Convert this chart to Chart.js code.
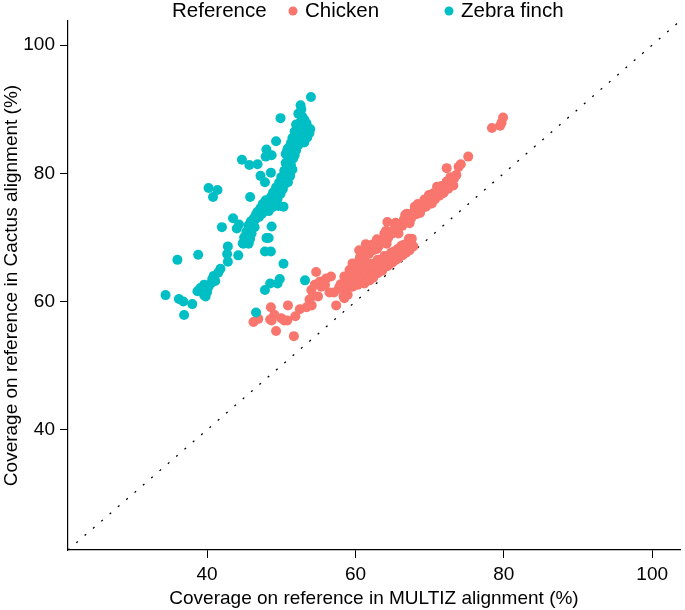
<!DOCTYPE html>
<html>
<head>
<meta charset="utf-8">
<script src="https://cdn.jsdelivr.net/npm/chart.js@4.4.1/dist/chart.umd.min.js"></script>
<style>
  html, body { margin: 0; padding: 0; background: #ffffff; }
  #wrap { position: relative; width: 685px; height: 610px; }
</style>
</head>
<body>
<div id="wrap"><canvas id="coverage-chart" width="685" height="610"></canvas></div>
<script>
// ============= DATA =============
// [MULTIZ coverage %, Cactus coverage %]

const seriesNames = ['Chicken', 'Zebra finch'];
const seriesColors = ['#F8766D', '#00BFC4'];
const legendTitle = 'Reference';
const axisTicks = [40, 60, 80, 100];
const axisMin = 21.25;
const axisMax = 103.75;

const chickenPts = [
  // top right
  [79.9, 88.7], [79.7, 87.9], [79.5, 87.4], [78.4, 87.05],
  [75.2, 82.6], [74.2, 81.4], [73.9, 81.0], [72.3, 80.8], [73.6, 79.75], [72.8, 79.4],
  // upper band
  [60.2, 66.0], [60.6, 66.9], [61.0, 66.6], [61.3, 67.6], [61.8, 67.4], [62.0, 68.3], [62.4, 68.0],
  [62.7, 68.9], [63.1, 68.6], [63.3, 69.5], [63.7, 69.4], [64.0, 70.2], [64.4, 69.9], [64.6, 70.8],
  [65.0, 70.6], [65.3, 71.4], [65.6, 71.2], [65.9, 72.0], [66.3, 71.8], [66.5, 72.7], [66.9, 72.4],
  [67.2, 73.3], [67.5, 73.0], [67.8, 73.9], [68.2, 73.6], [68.4, 74.5], [68.8, 74.3], [69.1, 75.0],
  [69.5, 74.8], [69.7, 75.6], [70.1, 75.3], [70.3, 76.2], [70.7, 75.9], [70.9, 76.7], [71.3, 76.5],
  [71.5, 77.2], [71.9, 77.0], [72.1, 77.8], [72.5, 77.6], [72.8, 78.3], [73.2, 78.1], [72.3, 78.7],
  [73.0, 78.9], [71.6, 78.0], [70.5, 76.9], [69.3, 75.9], [68.0, 74.8], [66.7, 73.5], [65.4, 72.3],
  [64.1, 71.0], [62.9, 69.7], [61.7, 68.5], [64.3, 72.4],
  [61.1, 67.3], [61.4, 66.1], [62.3, 68.9], [62.9, 68.2], [63.9, 70.6], [64.2, 69.0], [65.4, 72.1],
  [65.8, 70.6], [66.9, 73.7], [67.3, 72.2], [68.4, 75.2], [68.7, 73.8], [69.9, 76.6], [70.3, 75.3],
  [71.0, 77.9], [71.8, 76.9], [73.3, 79.2], [72.6, 78.2],
  // lower band
  [60.8, 63.4], [61.0, 64.3], [61.3, 63.8], [61.5, 64.7], [61.8, 64.1], [62.0, 64.9], [62.2, 64.3],
  [62.4, 65.2], [62.7, 64.7], [62.9, 65.5], [63.1, 64.9], [63.3, 65.8], [63.6, 65.2], [63.8, 66.0],
  [64.0, 65.5], [64.2, 66.4], [64.5, 65.8], [64.7, 66.7], [64.9, 66.1], [65.1, 67.0], [65.4, 66.5],
  [65.6, 67.3], [65.8, 66.8], [66.0, 67.7], [66.3, 67.2], [66.5, 68.1], [66.8, 67.6], [67.0, 68.5],
  [67.3, 68.0], [67.5, 69.0], [67.8, 68.6], [67.6, 69.8], [67.2, 69.8], [66.2, 68.7], [65.2, 67.8],
  [64.3, 67.0], [63.4, 66.4], [62.5, 65.7], [61.6, 65.1], [60.9, 64.8],
  [61.1, 63.1], [61.7, 63.5], [62.3, 63.9], [63.0, 64.4], [63.6, 64.8], [64.3, 65.5], [65.0, 66.1],
  [65.7, 66.7], [66.4, 67.3], [67.1, 67.9], [61.4, 65.3], [62.2, 65.9], [63.0, 66.5], [63.9, 67.1],
  [64.8, 67.6], [65.7, 68.2], [66.6, 68.9],
  // where the bands meet
  [59.2, 64.9], [58.5, 63.9], [59.4, 63.1], [60.3, 62.6], [59.6, 62.3], [58.95, 62.6], [60.0, 64.2],
  [60.4, 65.3], [59.8, 63.6], [61.2, 62.8], [60.6, 63.0], [61.9, 63.3], [62.4, 63.7], [60.95, 67.8],
  [61.4, 68.95], [60.5, 68.0], [59.6, 65.95], [57.8, 62.2], [58.3, 61.8], [60.0, 63.0],
  // lower left scatter
  [54.7, 64.6], [55.4, 63.1], [56.05, 63.6], [56.7, 63.9], [54.9, 62.7], [54.05, 61.8], [54.3, 60.9],
  [56.5, 61.4], [57.1, 61.4], [58.0, 62.7], [58.95, 63.6], [58.9, 62.3], [58.95, 61.05], [58.5, 60.5],
  [54.5, 62.6], [55.2, 63.1], [55.8, 63.2], [55.9, 62.6], [55.4, 62.3], [57.4, 59.4], [58.4, 60.8],
  [53.8, 60.3], [54.95, 60.8], [52.5, 58.8], [53.4, 59.1], [48.6, 59.1], [50.9, 59.4], [49.06, 57.95],
  [48.7, 57.06], [48.5, 57.2], [50.0, 57.4], [50.4, 57.06], [50.8, 57.06], [51.9, 57.7], [46.25, 56.8],
  [46.9, 57.3], [49.3, 55.4], [51.7, 54.6], [54.1, 59.4]
];

const finchPts = [
  // scattered
  [54.0, 91.9], [52.6, 90.6], [52.7, 90.0], [49.9, 88.6], [49.3, 85.0], [48.0, 83.7], [47.9, 82.6],
  [48.7, 82.8], [44.7, 82.1], [45.7, 81.3], [46.8, 81.4], [47.2, 79.6], [48.6, 80.1], [47.8, 78.6],
  [40.2, 77.7], [41.4, 77.4], [40.8, 76.3], [45.8, 76.3], [49.6, 74.9], [50.3, 74.8], [43.5, 73.0],
  [44.0, 71.4], [44.3, 72.0], [42.0, 71.6], [48.7, 71.7], [48.0, 69.9], [48.3, 69.9], [42.8, 68.6],
  [42.7, 67.4], [42.8, 66.2], [44.2, 67.2], [44.9, 69.0], [45.6, 69.3], [47.8, 67.8], [48.6, 67.8],
  [50.3, 65.9], [41.8, 65.1], [38.8, 67.3], [36.0, 66.5], [40.9, 64.0], [41.1, 63.2], [40.5, 62.8],
  [40.2, 62.3], [39.6, 62.6], [39.1, 62.1], [38.7, 61.6], [39.6, 61.0], [39.8, 60.8], [41.5, 64.5],
  [40.0, 61.5], [40.7, 63.5], [34.4, 61.0], [36.2, 60.4], [36.8, 60.0], [38.0, 59.6], [36.9, 57.9],
  [49.8, 63.5], [49.5, 62.8], [48.5, 62.8], [47.8, 61.8], [53.2, 63.3], [46.6, 58.3],
  // top cluster
  [52.3, 89.3], [52.8, 88.9], [53.1, 88.4], [52.6, 88.0], [53.4, 87.8], [52.0, 87.6], [52.9, 87.3],
  [53.6, 87.0], [52.4, 86.9], [53.2, 86.6], [51.8, 86.5], [52.7, 86.2], [53.8, 86.3], [52.1, 85.9],
  [53.0, 85.8], [51.5, 85.5], [52.5, 85.4], [53.5, 85.6], [51.9, 85.0], [52.8, 84.9], [51.3, 84.7],
  [52.3, 84.4], [53.1, 84.8], [51.7, 84.1], [50.9, 83.9], [52.0, 83.6], [51.4, 83.3], [50.6, 83.0],
  [51.8, 82.8], [53.9, 86.9],
  // column
  [51.4, 83.0], [50.9, 82.7], [51.6, 82.3], [51.1, 81.9], [50.6, 81.6], [51.3, 81.3], [50.8, 80.9],
  [51.5, 80.6], [50.4, 80.4], [51.0, 80.1], [50.5, 79.8], [51.2, 79.6], [50.0, 79.4], [50.7, 79.1],
  [50.2, 78.8], [50.9, 78.6], [49.7, 78.5], [50.4, 78.2], [49.9, 77.9], [49.3, 77.8], [50.2, 77.5],
  [49.6, 77.2], [48.9, 77.0], [49.9, 76.8], [49.2, 76.5], [48.6, 76.3], [49.5, 76.0], [48.9, 75.7],
  [51.2, 84.2], [51.8, 84.5], [50.8, 83.6],
  // diagonal arm
  [48.7, 75.9], [47.9, 75.8], [48.4, 75.4], [49.2, 75.3], [47.5, 75.2], [48.0, 74.9], [48.8, 74.7],
  [47.2, 74.6], [47.7, 74.3], [46.8, 74.0], [48.3, 74.1], [47.4, 73.7], [46.6, 73.6], [47.0, 73.2],
  [46.3, 73.0],
  [46.5, 72.8], [45.9, 72.5], [46.2, 72.1], [45.6, 71.9], [46.4, 71.6], [45.8, 71.2], [45.3, 70.9],
  [46.0, 70.6], [45.5, 70.3], [45.0, 70.0], [45.8, 69.8], [45.2, 69.5], [44.8, 69.1], [45.6, 69.0]
];

// ============= CHART =============

const FONT = '"Liberation Sans", Arial, Helvetica, sans-serif';
const AXIS_FONT_SIZE = 19;
const LEGEND_FONT_SIZE = 20.5;

function toXY(pts) {
  return pts.map(p => ({ x: p[0], y: p[1] }));
}

// legend drawn in the top strip, same look as the ggplot one
const refLegend = {
  id: 'refLegend',
  afterDraw(chart) {
    const ctx = chart.ctx;
    ctx.save();
    ctx.font = LEGEND_FONT_SIZE + 'px ' + FONT;
    ctx.textBaseline = 'middle';
    ctx.fillStyle = '#000';
    const y = 11;
    ctx.fillText(legendTitle, 172, y);
    const dotX = [293, 449];
    seriesNames.forEach((name, i) => {
      ctx.beginPath();
      ctx.fillStyle = seriesColors[i];
      ctx.arc(dotX[i], y, 4.5, 0, Math.PI * 2);
      ctx.fill();
      ctx.fillStyle = '#000';
      ctx.fillText(name, dotX[i] + 12, y);
    });
    ctx.restore();
  }
};

function axisOptions(titleText, fitSize, isX) {
  return {
    type: 'linear',
    min: axisMin,
    max: axisMax,
    afterBuildTicks: scale => {
      scale.ticks = axisTicks.map(v => ({ value: v }));
    },
    afterFit: scale => {
      if (isX) scale.height = fitSize; else scale.width = fitSize;
    },
    grid: { display: true, drawOnChartArea: false, tickLength: 8, color: '#000', lineWidth: 1 },
    border: { display: true, color: '#000', width: 1.2 },
    ticks: { color: '#000', font: { family: FONT, size: AXIS_FONT_SIZE }, padding: 5, maxRotation: 0 },
    title: { display: true, text: titleText, color: '#000', font: { family: FONT, size: AXIS_FONT_SIZE }, padding: 0 }
  };
}

const ctx = document.getElementById('coverage-chart').getContext('2d');

const coverageChart = new Chart(ctx, {
  type: 'scatter',
  data: {
    datasets: [
      {
        label: 'y = x',
        type: 'line',
        data: [{ x: axisMin, y: axisMin }, { x: axisMax, y: axisMax }],
        borderColor: '#000',
        borderWidth: 1.3,
        borderDash: [2, 9],
        pointRadius: 0,
        fill: false,
        order: 3
      },
      {
        label: seriesNames[0],
        data: toXY(chickenPts),
        backgroundColor: seriesColors[0],
        pointRadius: 5,
        pointBorderWidth: 0,
        order: 2
      },
      {
        label: seriesNames[1],
        data: toXY(finchPts),
        backgroundColor: seriesColors[1],
        pointRadius: 5,
        pointBorderWidth: 0,
        order: 1
      }
    ]
  },
  options: {
    responsive: false,
    animation: false,
    layout: { padding: { top: 21, right: 0, bottom: 0, left: 0 } },
    plugins: {
      legend: { display: false },
      tooltip: { enabled: false }
    },
    scales: {
      x: axisOptions('Coverage on reference in MULTIZ alignment (%)', 60, true),
      y: axisOptions('Coverage on reference in Cactus alignment (%)', 68, false)
    }
  },
  plugins: [refLegend]
});
</script>
</body>
</html>
